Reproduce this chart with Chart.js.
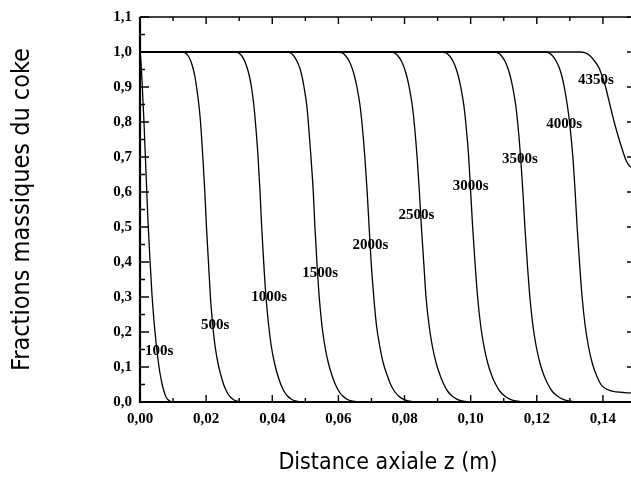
<!DOCTYPE html>
<html><head><meta charset="utf-8">
<script src="https://cdn.jsdelivr.net/npm/chart.js@4.4.1/dist/chart.umd.min.js"></script>
<style>html,body{margin:0;padding:0;background:#fff;overflow:hidden;width:631px;height:487px}canvas{display:block}</style>
</head><body><canvas id="c" width="645" height="487"></canvas>
<script>
// ---- data (z in m, coke mass fraction) ----
const curveNames = ['100s','500s','1000s','1500s','2000s','2500s','3000s','3500s','4000s','4350s'];
// fraction levels shared by the fronts 500s..3500s
const fLevels = [1,0.998,0.99,0.975,0.955,0.93,0.9,0.85,0.8,0.7,0.6,0.5,0.4,0.3,0.22,0.16,0.11,0.075,0.05,0.03,0.017,0.008,0.003,0];
const z500  = [0.0128,0.0136,0.0145,0.0153,0.0160,0.0166,0.0171,0.0178,0.0183,0.0190,0.0196,0.0201,0.0207,0.0213,0.0220,0.0227,0.0236,0.0245,0.0253,0.0262,0.0271,0.0281,0.0291,0.0305];
const z1000 = [0.0288,0.0297,0.0307,0.0316,0.0324,0.0331,0.0337,0.0344,0.0349,0.0357,0.0363,0.0368,0.0374,0.0381,0.0389,0.0397,0.0407,0.0417,0.0426,0.0436,0.0446,0.0458,0.0470,0.0492];
const z1500 = [0.0444,0.0454,0.0464,0.0474,0.0483,0.0490,0.0496,0.0504,0.0509,0.0517,0.0524,0.0529,0.0535,0.0542,0.0550,0.0559,0.0570,0.0581,0.0591,0.0602,0.0613,0.0626,0.0640,0.0668];
const z2000 = [0.0600,0.0610,0.0621,0.0632,0.0641,0.0649,0.0656,0.0665,0.0671,0.0680,0.0687,0.0693,0.0699,0.0707,0.0715,0.0725,0.0736,0.0748,0.0758,0.0770,0.0782,0.0796,0.0811,0.0840];
const z2500 = [0.0758,0.0768,0.0779,0.0790,0.0799,0.0807,0.0814,0.0823,0.0829,0.0838,0.0845,0.0851,0.0858,0.0865,0.0874,0.0884,0.0896,0.0908,0.0919,0.0931,0.0944,0.0958,0.0974,0.1002];
const z3000 = [0.0914,0.0924,0.0935,0.0946,0.0955,0.0963,0.0970,0.0979,0.0985,0.0994,0.1000,0.1006,0.1013,0.1021,0.1030,0.1040,0.1052,0.1064,0.1076,0.1089,0.1103,0.1118,0.1136,0.1170];
const z3500 = [0.1071,0.1081,0.1092,0.1103,0.1112,0.1120,0.1127,0.1136,0.1142,0.1151,0.1158,0.1164,0.1171,0.1179,0.1188,0.1198,0.1210,0.1222,0.1234,0.1247,0.1262,0.1278,0.1296,0.1330];
// 100s, 4000s and 4350s have their own levels
const z100  = [0,0.0002,0.0006,0.0012,0.0018,0.0024,0.0030,0.0036,0.0042,0.0048,0.0054,0.0060,0.0066,0.0072,0.0078,0.0084,0.0092,0.0102];
const f100  = [1,0.985,0.92,0.80,0.66,0.52,0.41,0.31,0.235,0.175,0.125,0.085,0.055,0.032,0.016,0.007,0.002,0];
const z4000 = [0.1225,0.1235,0.1247,0.1258,0.1268,0.1276,0.1283,0.1292,0.1299,0.1309,0.1316,0.1322,0.1329,0.1337,0.1346,0.1356,0.1368,0.1381,0.1394,0.1405,0.1420,0.1440,0.1465,0.15];
const f4000 = [1,0.998,0.99,0.975,0.955,0.93,0.9,0.85,0.8,0.7,0.6,0.5,0.4,0.3,0.22,0.16,0.11,0.075,0.05,0.04,0.033,0.029,0.027,0.026];
const z4350 = [0.1330,0.1345,0.1360,0.1374,0.1388,0.1398,0.1408,0.1421,0.1434,0.1446,0.1459,0.1470,0.1480,0.1490,0.15];
const f4350 = [1,0.998,0.99,0.975,0.955,0.93,0.9,0.85,0.8,0.76,0.72,0.69,0.675,0.668,0.665];

const zSets = [z100,z500,z1000,z1500,z2000,z2500,z3000,z3500,z4000,z4350];
const fSets = [f100,fLevels,fLevels,fLevels,fLevels,fLevels,fLevels,fLevels,f4000,f4350];

// curve label anchors (text centre, data units)
const labelZ = [0.0058,0.0227,0.0391,0.0545,0.0697,0.0836,0.1000,0.1149,0.1283,0.1379];
const labelF = [0.145,0.219,0.300,0.369,0.448,0.533,0.617,0.693,0.793,0.921];

// axes
const xTicks = [0,0.02,0.04,0.06,0.08,0.10,0.12,0.14];
const xTickLabels = ['0,00','0,02','0,04','0,06','0,08','0,10','0,12','0,14'];
const xMinor = [0.01,0.03,0.05,0.07,0.09,0.11,0.13,0.15];
const yTicks = [0,0.1,0.2,0.3,0.4,0.5,0.6,0.7,0.8,0.9,1.0,1.1];
const yTickLabels = ['0,0','0,1','0,2','0,3','0,4','0,5','0,6','0,7','0,8','0,9','1,0','1,1'];
const yMinor = [0.05,0.15,0.25,0.35,0.45,0.55,0.65,0.75,0.85,0.95,1.05];

const tickFont = {family:'"Liberation Serif","Times New Roman",serif', size:15, weight:'bold'};
const titleFamily = '"DejaVu Sans Condensed","Liberation Sans Narrow","Roboto",sans-serif';

function buildPoints(i){
  const zs = zSets[i], fs = fSets[i];
  const pts = [];
  if (zs[0] > 0) pts.push({x:0, y:fs[0]});
  zs.forEach((z,k)=>pts.push({x:z, y:fs[k]}));
  if (zs[zs.length-1] < 0.15) pts.push({x:0.15, y:fs[fs.length-1]});
  return pts;
}

const framePlugin = {
  id:'frame',
  afterDatasetsDraw(chart){
    const {ctx, chartArea:a, scales:{x,y}} = chart;
    ctx.save();
    ctx.fillStyle='#000';
    ctx.font = 'bold 15px "Liberation Serif","Times New Roman",serif';
    ctx.textAlign='center'; ctx.textBaseline='middle';
    curveNames.forEach((n,i)=>ctx.fillText(n, x.getPixelForValue(labelZ[i]), y.getPixelForValue(labelF[i])));
    ctx.strokeStyle='#000'; ctx.lineWidth=1.4;
    ctx.beginPath();
    xTicks.forEach(v=>{const p=x.getPixelForValue(v); ctx.moveTo(p,a.bottom); ctx.lineTo(p,a.bottom-7); ctx.moveTo(p,a.top); ctx.lineTo(p,a.top+7);});
    xMinor.forEach(v=>{const p=x.getPixelForValue(v); ctx.moveTo(p,a.bottom); ctx.lineTo(p,a.bottom-4); ctx.moveTo(p,a.top); ctx.lineTo(p,a.top+4);});
    yTicks.forEach(v=>{const p=y.getPixelForValue(v); ctx.moveTo(a.left,p); ctx.lineTo(a.left+9,p); ctx.moveTo(a.right,p); ctx.lineTo(a.right-9,p);});
    yMinor.forEach(v=>{const p=y.getPixelForValue(v); ctx.moveTo(a.left,p); ctx.lineTo(a.left+5,p); ctx.moveTo(a.right,p); ctx.lineTo(a.right-5,p);});
    ctx.stroke();
    ctx.lineWidth=2.2;
    ctx.beginPath(); ctx.moveTo(a.left,a.top); ctx.lineTo(a.left,a.bottom); ctx.lineTo(a.right,a.bottom); ctx.stroke();
    ctx.lineWidth=1.6;
    ctx.beginPath(); ctx.moveTo(a.left,a.top); ctx.lineTo(a.right,a.top); ctx.lineTo(a.right,a.bottom); ctx.stroke();
    ctx.restore();
  }
};

new Chart(document.getElementById('c'), {
  type:'line',
  data:{
    datasets: curveNames.map((n,i)=>({
      label:n, data:buildPoints(i),
      borderColor:'#000', borderWidth:1.3, pointRadius:0, fill:false,
      cubicInterpolationMode:'monotone'
    }))
  },
  options:{
    responsive:false, animation:false, devicePixelRatio:1,
    layout:{padding:{left:0,right:9,top:17,bottom:0}},
    plugins:{legend:{display:false}, tooltip:{enabled:false}},
    scales:{
      x:{type:'linear', min:0, max:0.15,
        grid:{display:false, drawTicks:false}, border:{display:false},
        afterBuildTicks(s){ s.ticks = xTicks.map(v=>({value:v})); },
        afterFit(s){ s.height = 85; },
        ticks:{font:tickFont, color:'#000', padding:8, maxRotation:0, autoSkip:false,
          callback(v){ const i = xTicks.findIndex(t=>Math.abs(t-v)<1e-9); return i>=0 ? xTickLabels[i] : ''; }},
        title:{display:true, text:'Distance axiale z (m)', font:{family:titleFamily,size:23}, color:'#000', padding:{top:0,bottom:10}}
      },
      y:{type:'linear', min:0, max:1.1,
        grid:{display:false, drawTicks:false}, border:{display:false},
        afterBuildTicks(s){ s.ticks = yTicks.map(v=>({value:v})); },
        afterFit(s){ s.width = 140; },
        ticks:{font:tickFont, color:'#000', padding:8, autoSkip:false,
          callback(v){ const i = yTicks.findIndex(t=>Math.abs(t-v)<1e-9); return i>=0 ? yTickLabels[i] : ''; }},
        title:{display:true, text:'Fractions massiques du coke', font:{family:titleFamily,size:25}, color:'#000', padding:{top:7,bottom:0}}
      }
    }
  },
  plugins:[framePlugin]
});
</script></body></html>
